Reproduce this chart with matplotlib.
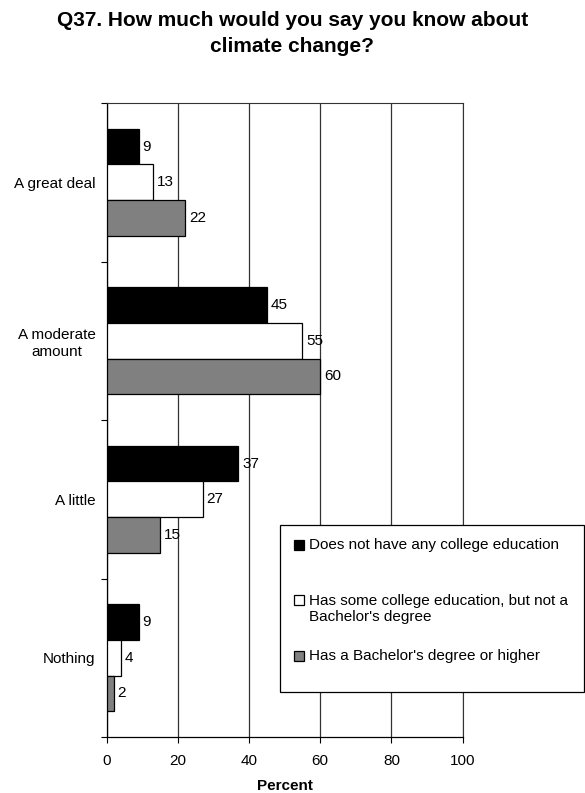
import matplotlib
matplotlib.use("Agg")
import matplotlib.pyplot as plt
import numpy as np
from matplotlib.patches import Rectangle

plt.rcParams['font.family'] = ['Liberation Sans', 'DejaVu Sans']

categories = ["A great deal", "A moderate\namount", "A little", "Nothing"]
series_names = ["Does not have any college education",
                "Has some college education, but not a\nBachelor's degree",
                "Has a Bachelor's degree or higher"]
no_college = [9, 45, 37, 9]
some_college = [13, 55, 27, 4]
bachelor = [22, 60, 15, 2]
series = [no_college, some_college, bachelor]
colors = ["#000000", "#ffffff", "#808080"]

W, H = 585, 793
fig = plt.figure(figsize=(W / 100, H / 100), dpi=100)
ax = fig.add_axes([106.5 / W, 1 - 737 / H, 356.2 / W, 634 / H])

n = len(categories)
bh = 0.224
y = np.arange(n)
for i, (vals, c) in enumerate(zip(series, colors)):
    pos = y + (i - 1) * bh
    ax.barh(pos, vals, height=bh, color=c, edgecolor='black', linewidth=0.9, zorder=3)
    for p, v in zip(pos, vals):
        ax.text(v + 1.1, p, str(v), va='center', ha='left', fontsize=11, zorder=4)

ax.set_ylim(n - 0.5, -0.5)
ax.set_xlim(0, 100)
ax.set_xticks(np.arange(0, 101, 20))
ax.set_yticks(np.arange(n + 1) - 0.5, minor=False)
ax.set_yticklabels([])
ax.set_yticks(y, minor=True)
ax.set_yticklabels(categories, minor=True, fontsize=11, ha='right', multialignment='center',
                   linespacing=1.25)
ax.tick_params(axis='y', which='minor', length=0, pad=8)
ax.tick_params(axis='y', which='major', length=4, width=0.8, direction='out')
ax.tick_params(axis='x', length=4, width=0.8, direction='out', labelsize=11, pad=8)

ax.grid(axis='x', color='#333333', linewidth=0.9, zorder=0)
for s in ['top', 'right']:
    ax.spines[s].set_visible(True)
    ax.spines[s].set_color('#333333')
ax.spines['left'].set_linewidth(0.9)
ax.spines['bottom'].set_linewidth(0.9)

ax.set_xlabel("Percent", fontsize=11, fontweight='bold', labelpad=8)

fig.text(0.5, 1 - 20 / H, "Q37. How much would you say you know about",
         fontsize=15, fontweight='bold', ha='center', va='center')
fig.text(0.5, 1 - 47 / H, "climate change?",
         fontsize=15, fontweight='bold', ha='center', va='center')

# legend box drawn in figure pixel coordinates
def fx(px):
    return px / W

def fy(py):
    return 1 - py / H

frame = Rectangle((fx(280), fy(692)), fx(584) - fx(280), fy(525) - fy(692),
                  transform=fig.transFigure, facecolor='white', edgecolor='black',
                  linewidth=0.9, zorder=10)
fig.add_artist(frame)
entry_y = [545, 609, 656]
for name, c, ey in zip(series_names, colors, entry_y):
    sq_y = ey if '\n' not in name else ey - 9
    fig.add_artist(Rectangle((fx(294), fy(sq_y + 5)), fx(304) - fx(294), fy(sq_y - 5) - fy(sq_y + 5),
                             transform=fig.transFigure, facecolor=c, edgecolor='black',
                             linewidth=0.9, zorder=11))
    fig.text(fx(309), fy(ey), name, fontsize=11, ha='left', va='center',
             linespacing=1.2, zorder=12)

fig.savefig("out.png", dpi=100)
